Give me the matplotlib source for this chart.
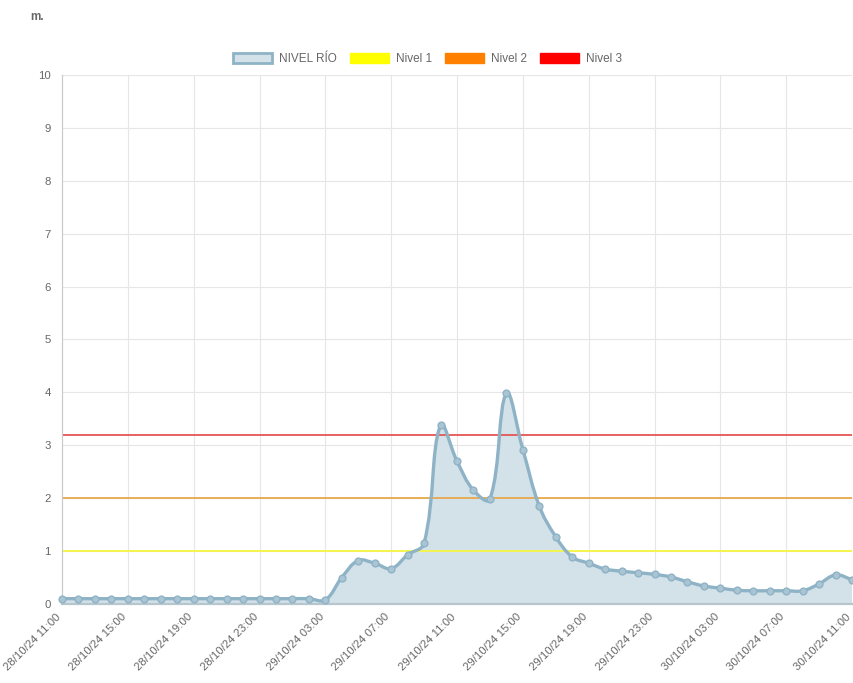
import numpy as np
import pandas as pd
import matplotlib
matplotlib.use("Agg")
import matplotlib.pyplot as plt
import matplotlib.transforms as mtransforms
from matplotlib.path import Path
from matplotlib.patches import PathPatch, Patch

plt.rcParams["font.family"] = ["Liberation Sans", "DejaVu Sans"]

# hourly readings, 28/10/24 11:00 -> 30/10/24 11:00
times = pd.date_range("2024-10-28 11:00", "2024-10-30 11:00", freq="h")
nivel_rio = [
    0.10, 0.10, 0.10, 0.10, 0.10, 0.10, 0.10, 0.10, 0.10, 0.10,
    0.10, 0.10, 0.10, 0.10, 0.10, 0.10, 0.08, 0.50, 0.82, 0.77,
    0.67, 0.93, 1.15, 3.38, 2.70, 2.15, 1.98, 3.98, 2.92, 1.85,
    1.27, 0.89, 0.77, 0.66, 0.62, 0.59, 0.56, 0.51, 0.42, 0.34,
    0.30, 0.26, 0.25, 0.25, 0.25, 0.25, 0.38, 0.55, 0.46,
]
nivel_1 = 1.0
nivel_2 = 2.0
nivel_3 = 3.2

labels = [t.strftime("%d/%m/%y %H:%M") for t in times]
x = np.arange(len(times))
y = np.array(nivel_rio)

line_col = "#8fb3c6"
fill_col = "#d3e1e9"
text_col = "#666666"
grid_col = "#e6e6e6"

fig = plt.figure(figsize=(8.54, 6.83), dpi=100)
ax = fig.add_axes([0.0726, 0.1157, 0.9251, 0.7745])


# chart.js style bezier (tension 0.4), distances in pixel space
def spline_path(xs, ys, t=0.4, sx=16.46, sy=52.9):
    px, py = xs * sx, ys * sy
    verts = [(xs[0], ys[0])]
    codes = [Path.MOVETO]
    n = len(xs)
    cp_prev, cp_next = [], []
    for i in range(n):
        p0 = (px[max(i - 1, 0)], py[max(i - 1, 0)])
        p1 = (px[i], py[i])
        p2 = (px[min(i + 1, n - 1)], py[min(i + 1, n - 1)])
        d01 = np.hypot(p1[0] - p0[0], p1[1] - p0[1])
        d12 = np.hypot(p2[0] - p1[0], p2[1] - p1[1])
        s01 = d01 / (d01 + d12) if d01 + d12 else 0
        s12 = d12 / (d01 + d12) if d01 + d12 else 0
        fa, fb = t * s01, t * s12
        cp_prev.append(((p1[0] - fa * (p2[0] - p0[0])) / sx, (p1[1] - fa * (p2[1] - p0[1])) / sy))
        cp_next.append(((p1[0] + fb * (p2[0] - p0[0])) / sx, (p1[1] + fb * (p2[1] - p0[1])) / sy))
    for i in range(1, n):
        verts += [cp_next[i - 1], cp_prev[i], (xs[i], ys[i])]
        codes += [Path.CURVE4] * 3
    return verts, codes


verts, codes = spline_path(x.astype(float), y)
fill_verts = verts + [(x[-1], 0), (x[0], 0), (x[0], y[0])]
fill_codes = codes + [Path.LINETO, Path.LINETO, Path.LINETO]
ax.add_patch(PathPatch(Path(fill_verts, fill_codes), facecolor=fill_col, edgecolor="none", zorder=1))
ax.add_patch(PathPatch(Path(verts, codes), facecolor="none", edgecolor=line_col, lw=2.4, zorder=3))
ax.scatter(x, y, s=24, color="#a9c4d2", edgecolor=line_col, linewidth=1.0, zorder=4, clip_on=False)

ax.axhline(nivel_1, color="#f5f542", lw=1.3, zorder=2)
ax.axhline(nivel_2, color="#e8a84a", lw=1.3, zorder=2)
ax.axhline(nivel_3, color="#e65555", lw=1.3, zorder=2)

ax.set_xlim(x[0], x[-1])
ax.set_ylim(0, 10)
ax.set_yticks(range(0, 11))
ax.set_xticks(x[::4])
ax.set_xticklabels(labels[::4], rotation=45, ha="right", va="center", rotation_mode="anchor")
ax.tick_params(colors=text_col, labelsize=8.2, length=0)
ax.tick_params(axis="x", pad=8)
ax.tick_params(axis="y", pad=8)
shift = mtransforms.ScaledTranslation(-3 / 100, 0, fig.dpi_scale_trans)
for lbl in ax.get_xticklabels():
    lbl.set_transform(lbl.get_transform() + shift)
ax.grid(True, color=grid_col, lw=0.8)
ax.set_axisbelow(True)
for s in ["top", "right"]:
    ax.spines[s].set_visible(False)
ax.spines["left"].set_color("#c8c8c8")
ax.spines["bottom"].set_color("#b7c6cd")
ax.spines["bottom"].set_linewidth(1.6)

handles = [
    Patch(facecolor=fill_col, edgecolor=line_col, lw=2, label="NIVEL RÍO"),
    Patch(facecolor="#ffff00", edgecolor="#ffff00", label="Nivel 1"),
    Patch(facecolor="#ff8000", edgecolor="#ff8000", label="Nivel 2"),
    Patch(facecolor="#ff0000", edgecolor="#ff0000", label="Nivel 3"),
]
leg = fig.legend(handles=handles, loc="center", bbox_to_anchor=(0.501, 0.914), ncol=4,
                 frameon=False, fontsize=8.5, handlelength=3.3, handleheight=1.0,
                 handletextpad=0.6, columnspacing=1.1)
for t in leg.get_texts():
    t.set_color(text_col)

fig.text(0.035, 0.975, "m.", color=text_col, fontsize=8.5, fontweight="bold", va="center")

fig.savefig("out.png", dpi=100)
